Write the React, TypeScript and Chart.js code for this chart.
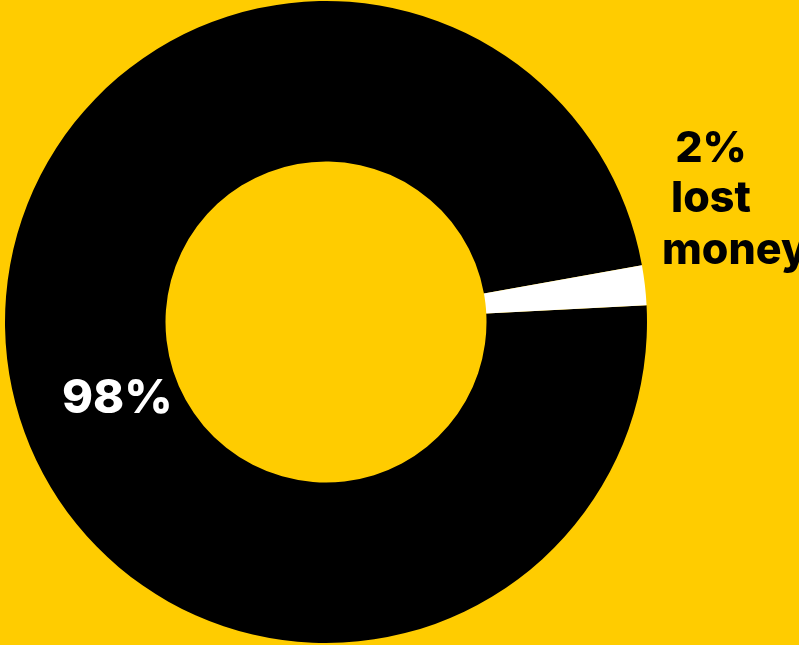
import React, { useEffect, useRef } from "react";
import { Chart, registerables } from "chart.js";

Chart.register(...registerables);

const categories = ["Did not lose money", "Lost money"];
const values = [98, 2];
const sliceColors = ["#000000", "#ffffff"];
const bigLabel = ["98%"];
const smallLabel = ["2%", "lost", "money"];

const BG = "#ffcc00";

export default function App() {
  const ref = useRef<HTMLCanvasElement | null>(null);

  useEffect(() => {
    document.body.style.margin = "0";
    const canvas = ref.current;
    if (!canvas) return;

    const labelPlugin = {
      id: "labelPlugin",
      afterDraw(chart: any) {
        const ctx = chart.ctx;
        ctx.save();
        ctx.textBaseline = "alphabetic";
        ctx.fillStyle = "#ffffff";
        ctx.font = "800 47px Inter, 'Open Sans', sans-serif";
        ctx.textAlign = "left";
        ctx.fillText(bigLabel[0], 62, 413);

        ctx.fillStyle = "#000000";
        ctx.font = "800 43px Inter, 'Open Sans', sans-serif";
        ctx.textAlign = "center";
        ctx.fillText(smallLabel[0], 711, 162);
        ctx.fillText(smallLabel[1], 711, 212);
        ctx.textAlign = "left";
        ctx.fillText(smallLabel[2], 662, 264);
        ctx.restore();
      },
    };

    const chart = new Chart(canvas, {
      type: "doughnut",
      data: {
        labels: categories,
        datasets: [
          {
            data: values,
            backgroundColor: sliceColors,
            borderWidth: 0,
          },
        ],
      },
      options: {
        animation: false,
        responsive: false,
        rotation: 87,
        cutout: "50%",
        layout: { padding: { left: 5, right: 152, top: 1, bottom: 2 } },
        plugins: {
          legend: { display: false },
          tooltip: { enabled: false },
        },
      },
      plugins: [labelPlugin],
    });
    return () => chart.destroy();
  }, []);

  return (
    <div
      style={{
        position: "fixed",
        left: 0,
        top: 0,
        width: 799,
        height: 645,
        background: BG,
        overflow: "hidden",
      }}
    >
      <canvas ref={ref} width={799} height={645} style={{ display: "block" }} />
    </div>
  );
}
